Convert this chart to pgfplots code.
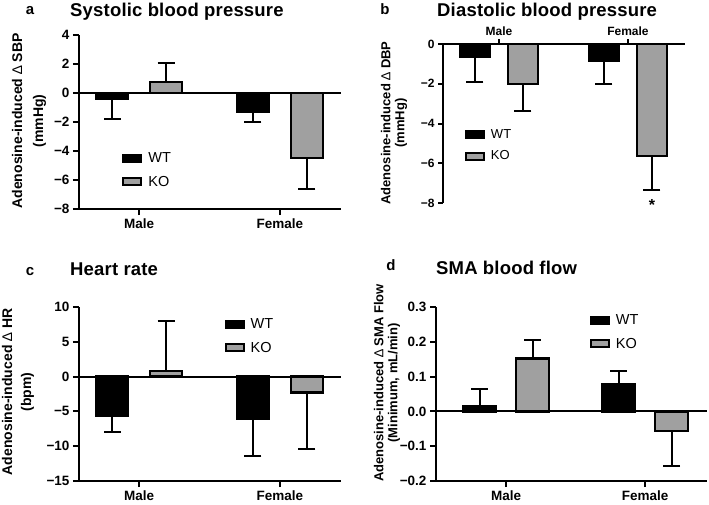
\documentclass[border=0pt]{standalone}
\usepackage{pgfplots}
\pgfplotsset{compat=1.18}
\usepackage{fontspec}
\setmainfont{Liberation Sans}
\definecolor{kogray}{RGB}{160,160,160}
\pgfplotsset{
  gp/.style={
    scale only axis, anchor=south west, clip=false,
    axis line style={line width=2pt, black, -},
    every tick/.style={line width=2pt, black},
    major tick length=6pt,
    tick align=outside,
    ybar,
    xtick={1,2}, xticklabels={Male,Female},
    xmin=0.574, xmax=2.433,
    ticklabel style={font=\fontsize{13.5}{13.5}\selectfont\bfseries},
    legend style={draw=none, fill=none, font=\fontsize{14.5}{14.5}\selectfont, anchor=north west, inner sep=0pt, row sep=8pt},
    legend cell align=left,
    /pgf/number format/assume math mode=true,
  },
  gpbar/.style={draw=black, line width=2.5pt, bar width=32pt,
    legend image code/.code={\draw[##1, line width=2pt] (0pt,-3.5pt) rectangle (18pt,3.5pt); \path[draw=none, fill=none] (0pt,0pt) -- (23pt,0pt);},
    error bars/y dir=both, error bars/y explicit,
    error bars/error bar style={line width=2pt, black},
    error bars/error mark options={rotate=90, line width=2pt, black, mark size=8.5pt}},
}
\begin{document}
\begin{tikzpicture}
\useasboundingbox (0,0) rectangle (709pt,504pt);
% ---------------- panel a
\begin{axis}[gp, at={(79pt,295pt)}, width=262pt, height=174pt,
  axis x line*=bottom, axis y line*=left,
  ymin=-8, ymax=4, ytick={-8,-6,-4,-2,0,2,4},
  yticklabels={−8,−6,−4,−2,0,2,4},
  legend style={at={(0.165,0.337)}}]
\addplot[gpbar, fill=black, bar shift=-27pt] coordinates {(1,-0.43) += (0,0) -= (0,1.36) (2,-1.32) += (0,0) -= (0,0.66)};
\addlegendentry{WT}
\addplot[gpbar, fill=kogray, bar shift=27pt] coordinates {(1,0.75) += (0,1.32) -= (0,0) (2,-4.5) += (0,0) -= (0,2.13)};
\addlegendentry{KO}
\draw[line width=2pt] ({rel axis cs:0,0} |- {axis cs:1,0}) -- ({rel axis cs:1,0} |- {axis cs:1,0});
\end{axis}
% ---------------- panel b
\begin{axis}[gp, at={(443pt,301pt)}, width=242pt, height=159pt,
  axis x line*=top, axis y line*=left,
  xmin=0.566, xmax=2.442,
  ymin=-8, ymax=0, ytick={-8,-6,-4,-2,0},
  yticklabels={−8,−6,−4,−2,0},
  major tick length=5pt,
  ticklabel style={font=\fontsize{12}{12}\selectfont\bfseries},
  legend style={at={(0.09,0.477)}, font=\fontsize{13}{13}\selectfont, row sep=7pt}]
\addplot[gpbar, fill=black, bar width=30pt, bar shift=-24pt] coordinates {(1,-0.65) += (0,0) -= (0,1.25) (2,-0.85) += (0,0) -= (0,1.18)};
\addlegendentry{WT}
\addplot[gpbar, fill=kogray, bar width=30pt, bar shift=24pt] coordinates {(1,-2.0) += (0,0) -= (0,1.35) (2,-5.63) += (0,0) -= (0,1.71)};
\addlegendentry{KO}
\node[font=\fontsize{16}{16}\selectfont\bfseries] at (axis cs:2,-8.1) [xshift=24pt] {*};
\end{axis}
% ---------------- panel c
\begin{axis}[gp, at={(79pt,23pt)}, width=262pt, height=174pt,
  axis x line*=bottom, axis y line*=left,
  ymin=-15, ymax=10, ytick={-15,-10,-5,0,5,10},
  yticklabels={−15,−10,−5,0,5,10},
  legend style={at={(0.555,0.947)}}]
\addplot[gpbar, fill=black, bar shift=-27pt] coordinates {(1,-5.6) += (0,0) -= (0,2.3) (2,-6.1) += (0,0) -= (0,5.3)};
\addlegendentry{WT}
\addplot[gpbar, fill=kogray, bar shift=27pt] coordinates {(1,0.8) += (0,7.2) -= (0,0) (2,-2.3) += (0,0) -= (0,8.1)};
\addlegendentry{KO}
\draw[line width=2pt] ({rel axis cs:0,0} |- {axis cs:1,0}) -- ({rel axis cs:1,0} |- {axis cs:1,0});
\end{axis}
% ---------------- panel d
\begin{axis}[gp, at={(436pt,23pt)}, width=271pt, height=174pt,
  axis x line*=bottom, axis y line*=left,
  xmin=0.496, xmax=2.446,
  ymin=-0.2, ymax=0.3, ytick={-0.2,-0.1,0,0.1,0.2,0.3},
  yticklabels={−0.2,−0.1,0.0,0.1,0.2,0.3},
  legend style={at={(0.567,0.97)}}]
\addplot[gpbar, fill=black, bar width=33pt, bar shift=-26.5pt] coordinates {(1,0.015) += (0,0.048) -= (0,0) (2,0.078) += (0,0.037) -= (0,0)};
\addlegendentry{WT}
\addplot[gpbar, fill=kogray, bar width=33pt, bar shift=26.5pt] coordinates {(1,0.152) += (0,0.053) -= (0,0) (2,-0.057) += (0,0) -= (0,0.101)};
\addlegendentry{KO}
\draw[line width=2pt] ({rel axis cs:0,0} |- {axis cs:1,0}) -- ({rel axis cs:1,0} |- {axis cs:1,0});
\end{axis}
% ---------------- titles
\newcommand\ttl{\fontsize{18.5}{18.5}\selectfont\bfseries\addfontfeatures{LetterSpace=1}}
\newcommand\lbl{\fontsize{15}{15}\selectfont\bfseries}
\node[anchor=base, inner sep=0pt, font=\lbl] at (30pt,489pt) {a};
\node[anchor=base west, inner sep=0pt, font=\ttl] at (70pt,487pt) {Systolic blood pressure};
\node[anchor=base, inner sep=0pt, font=\lbl] at (385pt,489pt) {b};
\node[anchor=base west, inner sep=0pt, font=\ttl] at (437pt,487pt) {Diastolic blood pressure};
\node[anchor=base, inner sep=0pt, font=\lbl] at (30pt,229pt) {c};
\node[anchor=base west, inner sep=0pt, font=\ttl] at (70pt,229pt) {Heart rate};
\node[anchor=base, inner sep=0pt, font=\lbl] at (391pt,234pt) {d};
\node[anchor=base west, inner sep=0pt, font=\ttl] at (436pt,230pt) {SMA blood flow};
% ---------------- y labels
\node[rotate=90, align=center, inner sep=0pt, font=\fontsize{14}{21}\selectfont\bfseries] at (29pt,383pt) {Adenosine-induced {\mdseries ∆} SBP\\(mmHg)};
\node[rotate=90, align=center, inner sep=0pt, font=\fontsize{13}{14}\selectfont\bfseries] at (394pt,381pt) {Adenosine-induced {\mdseries ∆} DBP\\(mmHg)};
\node[rotate=90, align=center, inner sep=0pt, font=\fontsize{14}{19}\selectfont\bfseries] at (18pt,112pt) {Adenosine-induced {\mdseries ∆} HR\\(bpm)};
\node[rotate=90, align=center, inner sep=0pt, font=\fontsize{13}{14}\selectfont\bfseries] at (387pt,121pt) {Adenosine-induced {\mdseries ∆} SMA Flow\\(Minimum, mL/min)};
\end{tikzpicture}
\end{document}
